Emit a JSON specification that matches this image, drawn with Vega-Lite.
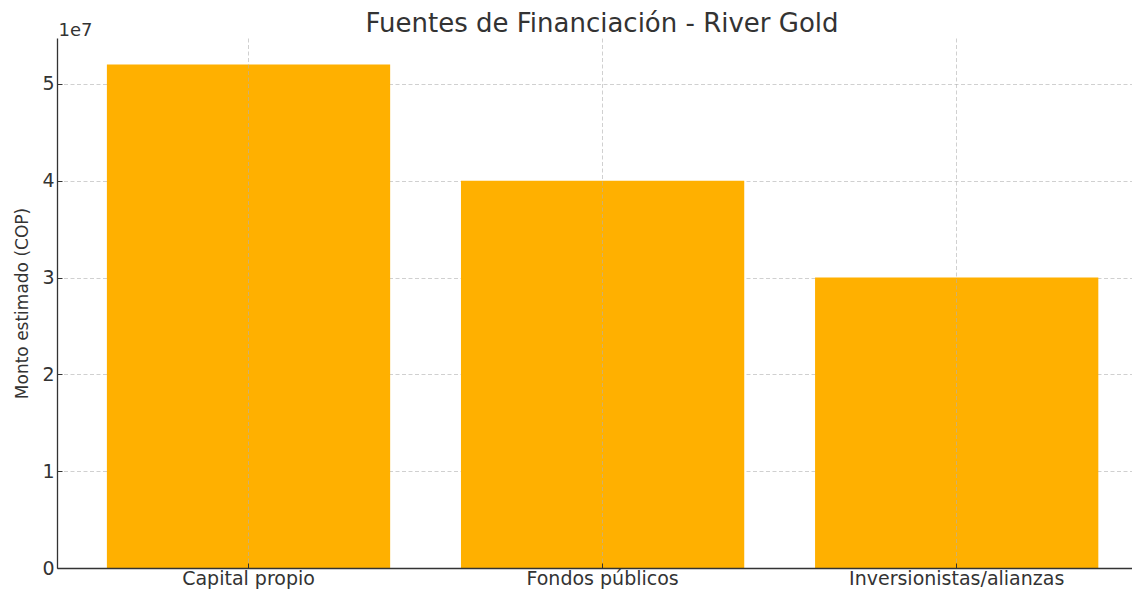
{
  "$schema": "https://vega.github.io/schema/vega-lite/v6.json",
  "width": 1075,
  "height": 530,
  "autosize": {"type": "none"},
  "padding": {"left": 57, "top": 38, "right": 0, "bottom": 22},
  "background": "white",
  "config": {
    "view": {"stroke": null},
    "font": "DejaVu Sans"
  },
  "title": {
    "text": "Fuentes de Financiación - River Gold",
    "fontSize": 26,
    "font": "DejaVu Sans",
    "fontWeight": "normal",
    "color": "#333333",
    "anchor": "middle",
    "baseline": "bottom",
    "offset": 2,
    "dy": 44,
    "dx": 7.5
  },
  "data": {
    "values": [
      {"fuente": "Capital propio", "monto": 52000000},
      {"fuente": "Fondos públicos", "monto": 40000000},
      {"fuente": "Inversionistas/alianzas", "monto": 30000000}
    ]
  },
  "mark": {"type": "bar", "color": "#FFB000"},
  "encoding": {
    "x": {
      "field": "fuente",
      "type": "nominal",
      "sort": null,
      "scale": {"paddingInner": 0.2, "paddingOuter": 0.118, "align": 0.597},
      "axis": {
        "title": "1e7",
        "titleX": 1,
        "titleY": -533,
        "titleAlign": "left",
        "titleBaseline": "alphabetic",
        "titleAngle": 0,
        "titleFont": "DejaVu Sans",
        "titleFontSize": 18,
        "titleFontWeight": "normal",
        "titleColor": "#333333",
        "labelAngle": 0,
        "labelFont": "DejaVu Sans",
        "labelFontSize": 19,
        "labelColor": "#333333",
        "labelBaseline": "alphabetic",
        "labelPadding": 21,
        "labelLimit": 0,
        "bandPosition": 0.5,
        "tickSize": -5,
        "tickColor": "#333333",
        "tickWidth": 1,
        "domainColor": "#333333",
        "domainWidth": 1.3,
        "grid": true,
        "gridColor": "#b0b0b0",
        "gridOpacity": 0.6,
        "gridDash": [4, 2.5],
        "gridWidth": 1,
        "zindex": 1
      }
    },
    "y": {
      "field": "monto",
      "type": "quantitative",
      "scale": {"domain": [0, 54750000], "nice": false, "zero": true},
      "axis": {
        "title": "Monto estimado (COP)",
        "titleFont": "DejaVu Sans",
        "titleFontSize": 17,
        "titleFontWeight": "normal",
        "titleColor": "#333333",
        "titleX": -30,
        "titleY": 265,
        "titleBaseline": "alphabetic",
        "titleAngle": -90,
        "titleAlign": "center",
        "values": [0, 10000000, 20000000, 30000000, 40000000, 50000000],
        "labelExpr": "format(datum.value / 10000000, 'd')",
        "labelFont": "DejaVu Sans",
        "labelFontSize": 19,
        "labelColor": "#333333",
        "labelPadding": 8,
        "tickSize": -5,
        "tickColor": "#333333",
        "tickWidth": 1,
        "domainColor": "#333333",
        "domainWidth": 1.3,
        "grid": true,
        "gridColor": "#b0b0b0",
        "gridOpacity": 0.6,
        "gridDash": [4, 2.5],
        "gridWidth": 1,
        "zindex": 0
      }
    }
  }
}
